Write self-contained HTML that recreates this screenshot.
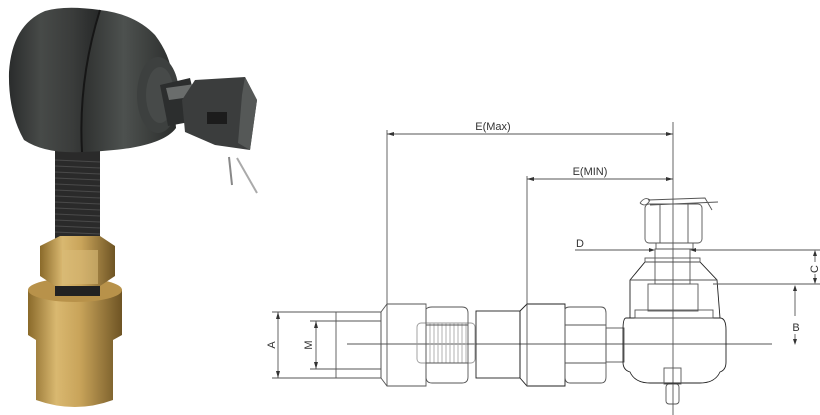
<!DOCTYPE html>
<html><head><meta charset="utf-8"><style>
html,body{margin:0;padding:0;background:#fff;width:820px;height:415px;overflow:hidden}
svg{display:block}
text{font-family:"Liberation Sans",sans-serif;fill:#333}
</style></head><body>
<svg width="820" height="415" viewBox="0 0 820 415" xmlns="http://www.w3.org/2000/svg">
<defs>
<linearGradient id="blk" x1="0" x2="1" y1="0" y2="0">
<stop offset="0" stop-color="#2a2c2c"/><stop offset=".35" stop-color="#474a48"/><stop offset=".7" stop-color="#3a3c3b"/><stop offset="1" stop-color="#262828"/></linearGradient>
<linearGradient id="blk2" x1="0" x2="1" y1="0" y2="0">
<stop offset="0" stop-color="#2e302f"/><stop offset=".45" stop-color="#4d514f"/><stop offset="1" stop-color="#2b2d2c"/></linearGradient>
<linearGradient id="brass" x1="0" x2="1" y1="0" y2="0">
<stop offset="0" stop-color="#8a6a2a"/><stop offset=".3" stop-color="#d9b870"/><stop offset=".55" stop-color="#c9a45a"/><stop offset="1" stop-color="#6e5424"/></linearGradient>
</defs>

<!-- PHOTO -->
<rect x="55" y="145" width="45" height="100" fill="#2a2a2a"/>
<g stroke="#4a4a4a" stroke-width="1">
<line x1="55" y1="160" x2="100" y2="162"/><line x1="55" y1="166" x2="100" y2="168"/><line x1="55" y1="172" x2="100" y2="174"/><line x1="55" y1="178" x2="100" y2="180"/><line x1="55" y1="184" x2="100" y2="186"/><line x1="55" y1="190" x2="100" y2="192"/><line x1="55" y1="196" x2="100" y2="198"/><line x1="55" y1="202" x2="100" y2="204"/><line x1="55" y1="208" x2="100" y2="210"/><line x1="55" y1="214" x2="100" y2="216"/><line x1="55" y1="220" x2="100" y2="222"/><line x1="55" y1="226" x2="100" y2="228"/><line x1="55" y1="232" x2="100" y2="234"/></g>
<path d="M28 290 Q75 275 122 290 L122 335 L113 340 L113 400 Q75 414 36 400 L36 340 L28 335 Z" fill="url(#brass)"/>
<ellipse cx="75" cy="290" rx="47" ry="12" fill="#b8924a"/>
<rect x="55" y="278" width="45" height="18" fill="#222"/>
<path d="M40 246 L60 236 L100 236 L115 246 L115 276 L100 286 L55 286 L40 276 Z" fill="url(#brass)"/>
<path d="M62 250 L98 250 L98 284 L62 284 Z" fill="#d8bb78" opacity=".6"/>
<!-- housing -->
<path d="M45 11 Q65 5 100 10 Q78 80 82 152 Q45 154 24 140 Q8 112 9 72 Q12 25 45 11 Z" fill="url(#blk)"/>
<path d="M100 10 Q135 14 155 35 Q170 55 172 75 L176 128 Q160 150 82 152 Q78 80 100 10 Z" fill="url(#blk2)"/>
<path d="M100 10 Q78 80 82 152" stroke="#161616" stroke-width="2" fill="none"/>
<ellipse cx="158" cy="95" rx="21" ry="38" fill="#3d403f"/>
<ellipse cx="160" cy="95" rx="14" ry="28" fill="#474a49"/>
<path d="M160 85 L190 78 L200 120 L168 126 Z" fill="#2c2e2e"/>
<path d="M166 88 L195 84 L198 96 L169 100 Z" fill="#6a6d6c"/>
<!-- castle nut -->
<path d="M195 80 L245 77 L257 100 L250 150 L215 145 L185 132 L182 100 Z" fill="#3b3d3d"/>
<path d="M245 77 L257 100 L250 150 L238 143 L242 95 Z" fill="#555857"/>
<rect x="207" y="112" width="20" height="12" fill="#1c1c1c"/>
<line x1="229" y1="157" x2="232" y2="185" stroke="#888" stroke-width="2"/>
<line x1="237" y1="158" x2="257" y2="193" stroke="#aaa" stroke-width="2"/>

<!-- DRAWING -->
<g stroke="#555" stroke-width="0.9" fill="none">
<line x1="387" y1="134" x2="673" y2="134"/>
<line x1="387" y1="130" x2="387" y2="304"/>
<line x1="527" y1="179" x2="673" y2="179"/>
<line x1="527" y1="176" x2="527" y2="304"/>
<line x1="673" y1="122" x2="673" y2="415"/>
<line x1="347" y1="344" x2="772" y2="344"/>
<line x1="272" y1="312" x2="381" y2="312"/>
<line x1="272" y1="378" x2="381" y2="378"/>
<line x1="278" y1="312" x2="278" y2="378"/>
<line x1="310" y1="321" x2="381" y2="321"/>
<line x1="310" y1="369" x2="381" y2="369"/>
<line x1="316" y1="321" x2="316" y2="369"/>
<rect x="336" y="312" width="45" height="66"/>
<path d="M381 312 L387 304 L426 304 L426 386 L387 386 L381 378 Z"/>
<line x1="387" y1="304" x2="387" y2="386"/>
<rect x="417" y="323" width="58" height="40" rx="4" stroke="#999"/>
<path d="M426 323 V363 M430 323 V363 M434 323 V363 M438 323 V363 M442 323 V363 M446 323 V363 M450 323 V363 M454 323 V363 M458 323 V363 M462 323 V363 M466 323 V363" stroke="#aaa"/>
<path d="M426 309 Q428 307 432 307 L462 307 Q468 307 468 313 L468 377 Q468 383 462 383 L432 383 Q426 383 426 377 Z"/>
<line x1="426" y1="325" x2="468" y2="325"/><line x1="426" y1="363" x2="468" y2="363"/>
<rect x="476" y="311" width="44" height="67" stroke="#222"/>
<path d="M520 311 L527 304 L565 304 L565 386 L527 386 L520 378 Z" stroke="#222"/>
<line x1="527" y1="304" x2="527" y2="386"/>
<path d="M565 309 Q566 307 570 307 L601 307 Q606 307 606 313 L606 377 Q606 383 601 383 L570 383 Q565 383 565 377 Z"/>
<line x1="565" y1="325" x2="606" y2="325"/><line x1="565" y1="363" x2="606" y2="363"/>
<rect x="606" y="328" width="18" height="34"/>
<path d="M626 318 L720 318 Q726 318 726 330 L726 362 Q726 370 720 372 Q715 383 700 383 L650 383 Q635 383 630 372 Q623 370 623 362 L623 330 Q623 318 626 318 Z" stroke="#222"/>
<path d="M630 318 L630 280 L645 262 L700 262 L717 280 L720 318" stroke="#222"/>
<line x1="630" y1="280" x2="717" y2="280"/>
<rect x="645" y="258" width="55" height="4"/>
<rect x="648" y="284" width="50" height="27"/>
<rect x="635" y="310" width="78" height="8"/>
<rect x="655" y="249" width="35" height="35"/>
<rect x="664" y="368" width="17" height="16"/>
<rect x="666" y="384" width="13" height="20" rx="3"/>
<rect x="645" y="204" width="57" height="39" rx="4"/>
<line x1="660" y1="204" x2="660" y2="243"/><line x1="688" y1="204" x2="688" y2="243"/>
<rect x="656" y="243" width="37" height="6"/>
<path d="M648 200 L705 198 L712 210 M650 205 L718 202 M640 203 Q645 196 650 200 Q646 208 640 203"/>
<line x1="575" y1="250" x2="653" y2="250"/>
<line x1="692" y1="250" x2="820" y2="250"/>
<line x1="713" y1="284" x2="820" y2="284"/>
<line x1="815" y1="252" x2="815" y2="262"/><line x1="815" y1="274" x2="815" y2="283"/>
<line x1="795" y1="286" x2="795" y2="316"/><line x1="795" y1="334" x2="795" y2="343"/>
</g>
<g fill="#333">
<path d="M387 134 l7 -2 v4 z M673 134 l-7 -2 v4 z M527 179 l7 -2 v4 z M673 179 l-7 -2 v4 z"/>
<path d="M278 312 l-2 7 h4 z M278 378 l-2 -7 h4 z M316 321 l-2 7 h4 z M316 369 l-2 -7 h4 z"/>
<path d="M655 250 l-6 -2 v4 z M690 250 l6 -2 v4 z"/>
<path d="M815 250 l-2 6 h4 z M815 284 l-2 -6 h4 z M795 285 l-2 6 h4 z M795 345 l-2 -6 h4 z"/>
</g>
<text x="493" y="130" font-size="11" text-anchor="middle">E(Max)</text>
<text x="590" y="175" font-size="11" text-anchor="middle">E(MIN)</text>
<text x="580" y="247" font-size="11" text-anchor="middle">D</text>
<text x="796" y="331" font-size="11" text-anchor="middle">B</text>
<text font-size="11" text-anchor="middle" transform="translate(818,269) rotate(-90)">C</text>
<text font-size="11" text-anchor="middle" transform="translate(275,345) rotate(-90)">A</text>
<text font-size="11" text-anchor="middle" transform="translate(312,345) rotate(-90)">M</text>
</svg>
</body></html>
